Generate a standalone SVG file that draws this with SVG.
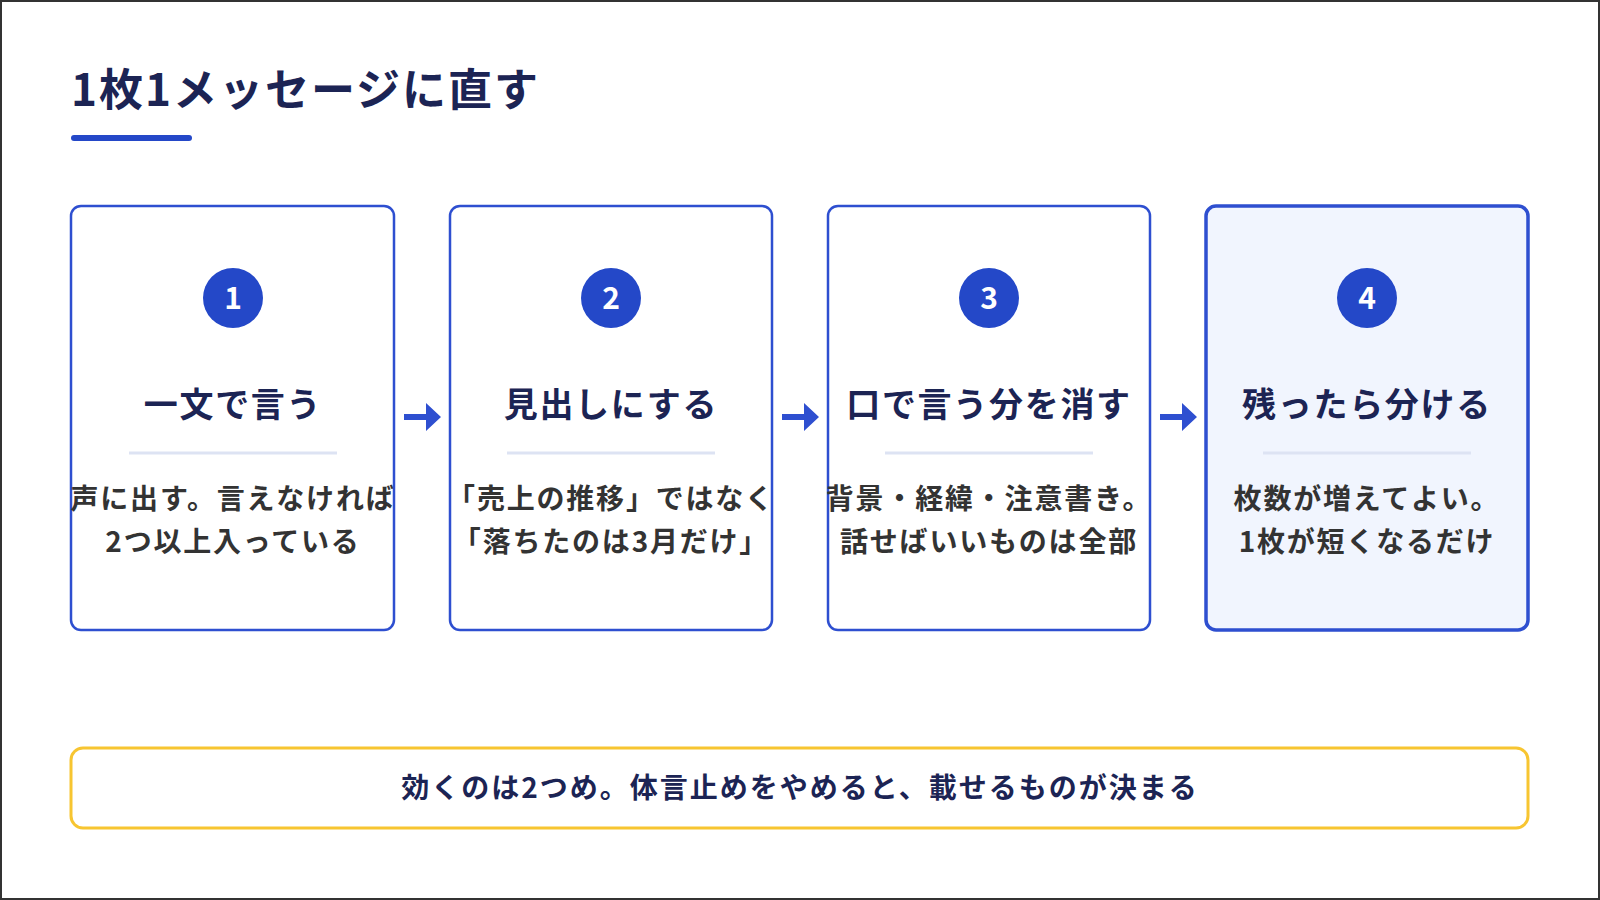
<svg xmlns="http://www.w3.org/2000/svg" width="1600" height="900" viewBox="0 0 1600 900">
<style>
text{font-family:"Noto Sans CJK JP","Noto Sans",sans-serif;}
.card{fill:#fff;stroke:#2e4fd0;stroke-width:2.5;}
.num{fill:#2448c8;}
.numt{fill:#fff;font-size:30px;font-weight:700;text-anchor:middle;}
.head{fill:#1c2454;font-size:34px;font-weight:700;text-anchor:middle;letter-spacing:1.7px;}
.sep{stroke:#dde3f3;stroke-width:3;}
.body{fill:#333;font-size:28px;font-weight:600;text-anchor:middle;letter-spacing:1.8px;}
.arr{fill:#2e4fd0;}
</style>
<rect x="1" y="1" width="1598" height="898" fill="#fff" stroke="#333" stroke-width="2"/>
<g id="title">
<text x="71" y="106" font-size="44" font-weight="700" fill="#1c2454" letter-spacing="2">1枚1メッセージに直す</text>
<rect x="71" y="135" width="121" height="6" rx="3" fill="#2448c8"/>
</g>
<g id="card1">
<rect class="card" x="71" y="206" width="323" height="424" rx="10"/>
<circle class="num" cx="233" cy="298" r="30"/><text class="numt" x="233" y="309">1</text>
<text class="head" x="233" y="417">一文で言う</text>
<line class="sep" x1="129" y1="453" x2="337" y2="453"/>
<text class="body" x="233" y="509">声に出す。言えなければ</text>
<text class="body" x="233" y="552">2つ以上入っている</text>
</g>
<g id="card2">
<rect class="card" x="450" y="206" width="322" height="424" rx="10"/>
<circle class="num" cx="611" cy="298" r="30"/><text class="numt" x="611" y="309">2</text>
<text class="head" x="611" y="417">見出しにする</text>
<line class="sep" x1="507" y1="453" x2="715" y2="453"/>
<text class="body" x="611" y="509">「売上の推移」ではなく</text>
<text class="body" x="611" y="552">「落ちたのは3月だけ」</text>
</g>
<g id="card3">
<rect class="card" x="828" y="206" width="322" height="424" rx="10"/>
<circle class="num" cx="989" cy="298" r="30"/><text class="numt" x="989" y="309">3</text>
<text class="head" x="989" y="417">口で言う分を消す</text>
<line class="sep" x1="885" y1="453" x2="1093" y2="453"/>
<text class="body" x="989" y="509">背景・経緯・注意書き。</text>
<text class="body" x="989" y="552">話せばいいものは全部</text>
</g>
<g id="card4">
<rect class="card" x="1206" y="206" width="322" height="424" rx="10" style="fill:#f1f5fe;stroke-width:3.5"/>
<circle class="num" cx="1367" cy="298" r="30"/><text class="numt" x="1367" y="309">4</text>
<text class="head" x="1367" y="417">残ったら分ける</text>
<line class="sep" x1="1263" y1="453" x2="1471" y2="453"/>
<text class="body" x="1367" y="509">枚数が増えてよい。</text>
<text class="body" x="1367" y="552">1枚が短くなるだけ</text>
</g>
<g id="connectors">
<path class="arr" d="M404 414h22v-11l15 14-15 14v-11h-22z"/>
<path class="arr" d="M782 414h22v-11l15 14-15 14v-11h-22z"/>
<path class="arr" d="M1160 414h22v-11l15 14-15 14v-11h-22z"/>
</g>
<g id="note">
<rect x="71" y="748" width="1457" height="80" rx="12" fill="#fff" stroke="#f7c531" stroke-width="3"/>
<text x="800" y="798" font-size="28" font-weight="600" fill="#1c2454" text-anchor="middle" letter-spacing="2">効くのは2つめ。体言止めをやめると、載せるものが決まる</text>
</g>
</svg>
